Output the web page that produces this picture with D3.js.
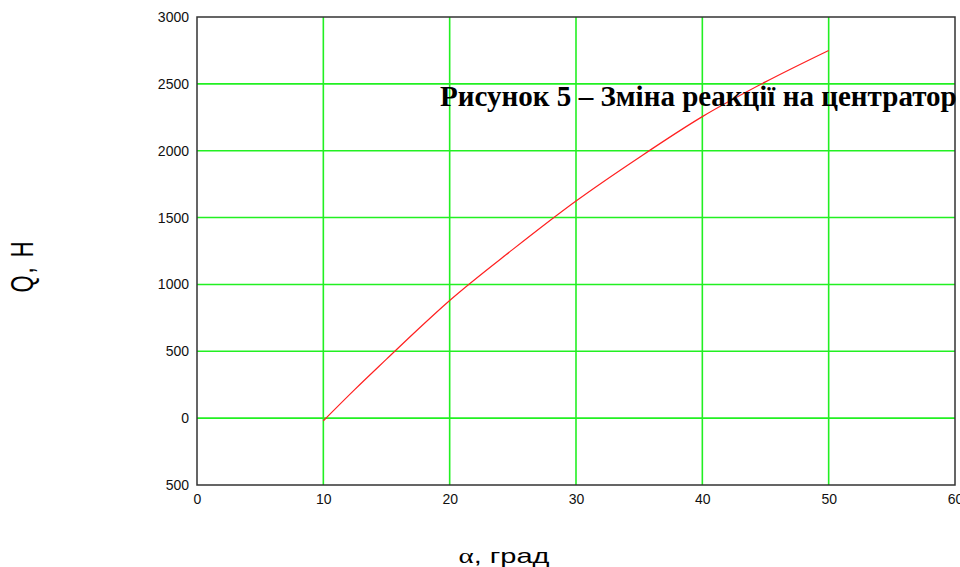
<!DOCTYPE html>
<html>
<meta charset="utf-8">
<script src="https://d3js.org/d3.v7.min.js"></script>
<style>
  body { margin: 0; background: #fff; }
  svg { display: block; }
</style>
<body>
<div id="my_dataviz"></div>
<script>

// data
var alphaDeg = [10, 12.5, 15, 17.5, 20, 25, 30, 35, 40, 45, 50];
var reactionQ = [-20, 215, 441, 665, 880, 1262, 1624, 1950, 2255, 2515, 2750];
var xTicks = [0, 10, 20, 30, 40, 50, 60];
var yTicks = [-500, 0, 500, 1000, 1500, 2000, 2500, 3000];
var yTickLabels = ["500", "0", "500", "1000", "1500", "2000", "2500", "3000"];

var W = 960, H = 567;
var margin = {top: 17, right: 5, bottom: 82, left: 197},
    width = W - margin.left - margin.right,
    height = H - margin.top - margin.bottom;

var svg = d3.select("#my_dataviz")
  .append("svg")
    .attr("width", W)
    .attr("height", H);

var g = svg.append("g")
    .attr("transform", "translate(" + margin.left + "," + margin.top + ")");

var x = d3.scaleLinear().domain([0, 60]).range([0, width]);
var y = d3.scaleLinear().domain([-500, 3000]).range([height, 0]);

// grid
g.selectAll(".vgrid")
  .data(xTicks.slice(1, -1))
  .enter().append("line")
    .attr("x1", function(d) { return x(d); })
    .attr("x2", function(d) { return x(d); })
    .attr("y1", 0).attr("y2", height)
    .style("stroke", "#22f022")
    .style("stroke-width", 1.6);

g.selectAll(".hgrid")
  .data(yTicks.slice(1, -1))
  .enter().append("line")
    .attr("x1", 0).attr("x2", width)
    .attr("y1", function(d) { return y(d); })
    .attr("y2", function(d) { return y(d); })
    .style("stroke", "#22f022")
    .style("stroke-width", 1.6);

// frame
g.append("rect")
    .attr("width", width).attr("height", height)
    .style("fill", "none")
    .style("stroke", "#333")
    .style("stroke-width", 1.5);

// axes (labels only, no tick marks)
var xAxis = g.append("g")
    .attr("transform", "translate(0," + height + ")")
    .call(d3.axisBottom(x).tickValues(xTicks).tickSize(0).tickPadding(9));
var yAxis = g.append("g")
    .call(d3.axisLeft(y).tickValues(yTicks).tickSize(0).tickPadding(8)
      .tickFormat(function(d, i) { return yTickLabels[i]; }));

[xAxis, yAxis].forEach(function(a) {
  a.select(".domain").remove();
  a.selectAll("text")
    .style("font-family", "'Liberation Sans', Arial, sans-serif")
    .style("font-size", "14px")
    .style("fill", "#111");
});

// curve
var line = d3.line()
    .x(function(d, i) { return x(alphaDeg[i]); })
    .y(function(d) { return y(d); })
    .curve(d3.curveMonotoneX);

g.append("path")
    .datum(reactionQ)
    .attr("d", line)
    .style("fill", "none")
    .style("stroke", "#ff2020")
    .style("stroke-width", 1.2);

// title inside the plot, runs up to the right border
var title = svg.append("text")
    .attr("x", 440)
    .attr("y", 106)
    .style("font-family", "'Liberation Serif', 'Times New Roman', serif")
    .style("font-weight", "bold")
    .style("font-size", "20px")
    .text("Рисунок 5 – Зміна реакції на центратор");
var tw = title.node().getComputedTextLength();
title.style("font-size", (20 * 517 / tw) + "px");

// axis titles (the original picture is stretched sideways)
svg.append("text")
    .attr("transform", "translate(33,266) scale(1.4,1) rotate(-90)")
    .attr("text-anchor", "middle")
    .style("font-family", "'Liberation Sans', Arial, sans-serif")
    .style("font-size", "22px")
    .style("letter-spacing", "2px")
    .text("Q, H");

var xl = svg.append("text")
    .attr("transform", "translate(504,563) scale(1.45,1)")
    .attr("text-anchor", "middle")
    .style("font-family", "'Liberation Sans', Arial, sans-serif")
    .style("font-size", "20px");
xl.append("tspan")
    .style("font-family", "'Liberation Serif', 'Times New Roman', serif")
    .text("α");
xl.append("tspan").text(", град");

</script>
</body>
</html>
